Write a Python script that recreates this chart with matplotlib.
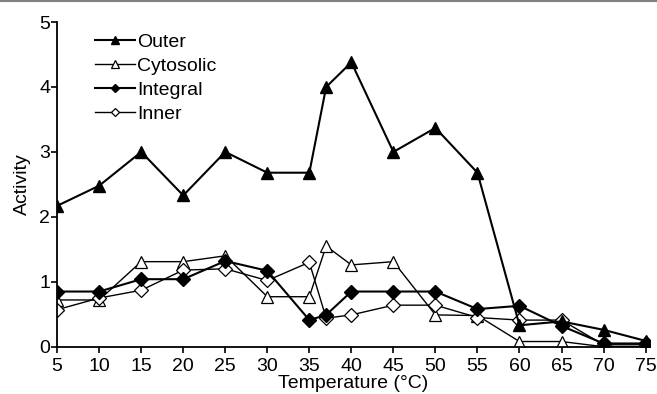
import numpy as np
import matplotlib
matplotlib.use("Agg")
import matplotlib.pyplot as plt
from matplotlib.lines import Line2D

plt.rcParams['font.family'] = ['Liberation Sans', 'DejaVu Sans']

# temperatures (an extra reading at 37 C)
temp = [5, 10, 15, 20, 25, 30, 35, 37, 40, 45, 50, 55, 60, 65, 70, 75]

outer     = [2.17, 2.48, 3.0, 2.33, 3.0, 2.68, 2.68, 4.0, 4.38, 3.0, 3.37, 2.68, 0.33, 0.39, 0.26, 0.09]
cytosolic = [0.72, 0.72, 1.31, 1.31, 1.40, 0.77, 0.77, 1.55, 1.26, 1.31, 0.49, 0.48, 0.08, 0.08, 0.0, 0.0]
integral  = [0.85, 0.85, 1.04, 1.04, 1.32, 1.17, 0.41, 0.49, 0.85, 0.85, 0.85, 0.58, 0.63, 0.32, 0.05, 0.05]
inner     = [0.57, 0.75, 0.87, 1.18, 1.20, 1.02, 1.30, 0.44, 0.49, 0.64, 0.64, 0.45, 0.41, 0.41, 0.03, 0.03]

xticks = [5, 10, 15, 20, 25, 30, 35, 40, 45, 50, 55, 60, 65, 70, 75]
yticks = [0, 1, 2, 3, 4, 5]

fig = plt.figure(figsize=(6.57, 3.94), dpi=100)
ax = fig.add_axes([0.087, 0.12, 0.902, 0.824])

ax.plot(temp, outer, '-', color='black', lw=1.5, marker='^', ms=9,
        mfc='black', mec='black', label='Outer', zorder=3)
ax.plot(temp, cytosolic, '-', color='black', lw=1.0, marker='^', ms=9,
        mfc='white', mec='black', mew=0.9, label='Cytosolic', zorder=2)
ax.plot(temp, integral, '-', color='black', lw=1.5, marker='D', ms=7,
        mfc='black', mec='black', label='Integral', zorder=4)
ax.plot(temp, inner, '-', color='black', lw=1.0, marker='D', ms=7,
        mfc='white', mec='black', mew=0.9, label='Inner', zorder=2)

ax.set_xlim(5, 75.5)
ax.set_ylim(0, 5)
ax.set_xticks(xticks)
ax.set_yticks(yticks)
for s in ['top', 'right']:
    ax.spines[s].set_visible(False)
for s in ['left', 'bottom']:
    ax.spines[s].set_linewidth(1.3)
ax.tick_params(direction='out', length=4, width=1.2, labelsize=14)
ax.tick_params(axis='x', pad=4)
ax.tick_params(axis='y', pad=1)

ax.set_xlabel('Temperature (°C)', fontsize=14, labelpad=0)
ax.set_ylabel('Activity', fontsize=14, labelpad=6)

leg = ax.legend(loc='upper left', bbox_to_anchor=(0.05, 0.99), frameon=False,
                fontsize=14, handlelength=2.1, handletextpad=0.1,
                labelspacing=0.33, markerscale=0.6, borderaxespad=0)

# grey border line along the top edge
fig.add_artist(Line2D([0, 1], [0.997, 0.997], color='grey', lw=1.5))

fig.savefig('out.png', dpi=100)
